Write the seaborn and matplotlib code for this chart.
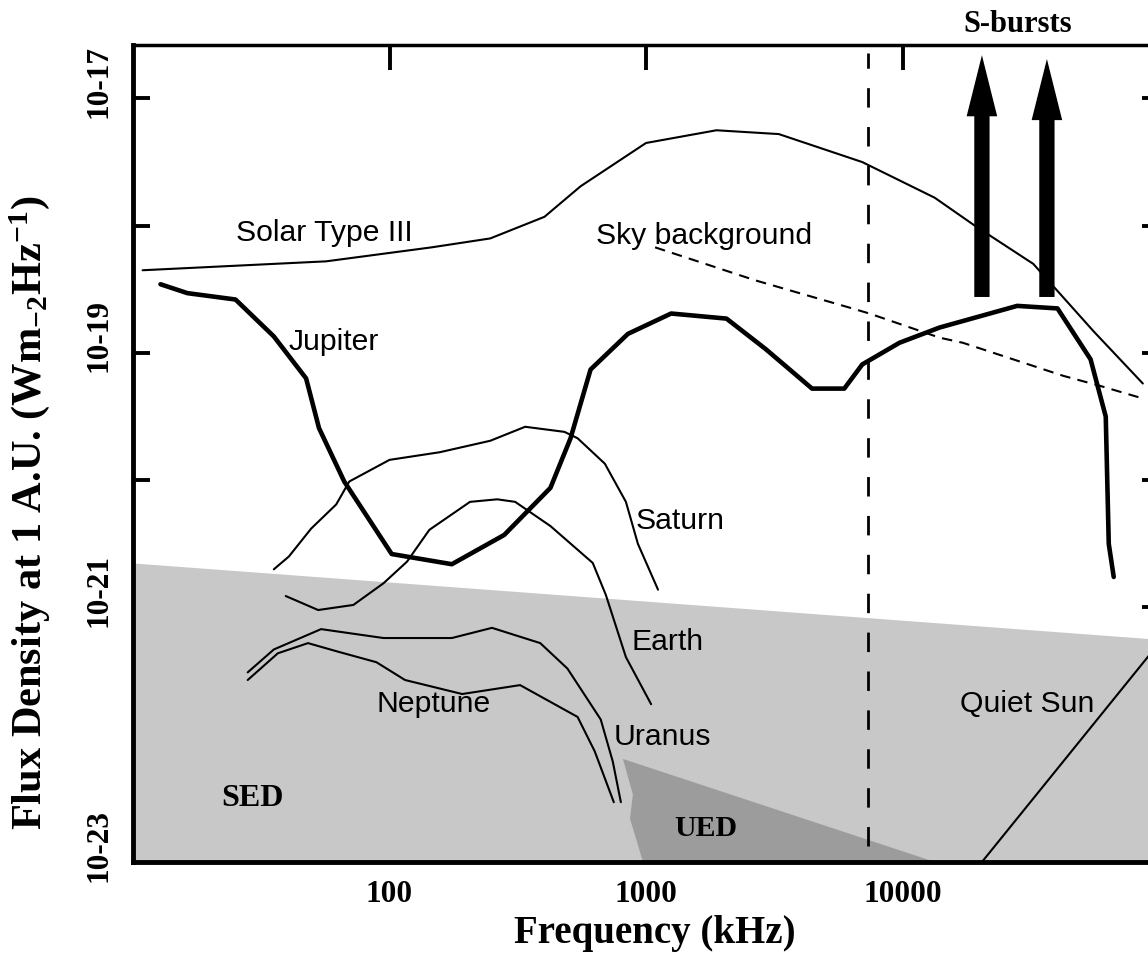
"""
Radio flux density of solar system sources vs. frequency (log-log).
"""
import matplotlib
matplotlib.use("Agg")
import matplotlib.pyplot as plt
import matplotlib.transforms as mtransforms
from matplotlib.ticker import NullLocator
import seaborn as sns
import numpy as np

# frequencies in kHz, flux given as log10(W m^-2 Hz^-1)
solar_freq = [10.9, 56.6, 146, 247, 402, 556, 1000, 1882, 3294, 6970, 13350, 19150, 32350, 55600, 86500]
solar_flux = [-18.35, -18.28, -18.17, -18.10, -17.93, -17.69, -17.35, -17.25, -17.28, -17.50,
              -17.78, -18.00, -18.30, -18.83, -19.24]

sky_freq = [1085, 2675, 6370, 7430, 13960, 17190, 42400, 59250, 87300]
sky_flux = [-18.17, -18.43, -18.65, -18.69, -18.88, -18.92, -19.18, -19.26, -19.36]

jupiter_freq = [12.8, 16.3, 25.1, 35.4, 47.3, 53.1, 66.6, 102, 175, 280, 424, 508, 608, 850,
                1253, 2060, 2930, 4440, 5930, 6970, 9730, 13960, 28000, 40200, 54100, 62000,
                63700, 66600]
jupiter_flux = [-18.46, -18.53, -18.58, -18.87, -19.20, -19.59, -20.01, -20.58, -20.66, -20.43,
                -20.06, -19.67, -19.13, -18.85, -18.69, -18.73, -18.97, -19.28, -19.28, -19.09,
                -18.92, -18.80, -18.63, -18.65, -19.05, -19.50, -20.50, -20.76]

saturn_freq = [35.4, 40.5, 49.5, 62.0, 69.7, 100, 157, 247, 338, 481, 541, 691, 835, 930, 1114]
saturn_flux = [-20.70, -20.60, -20.38, -20.19, -20.01, -19.84, -19.78, -19.69, -19.58, -19.62,
               -19.67, -19.87, -20.17, -20.50, -20.86]

earth_freq = [39.4, 52.7, 72.3, 94.7, 117, 143, 206, 263, 309, 424, 620, 697, 835, 1047]
earth_flux = [-20.91, -21.02, -20.98, -20.81, -20.64, -20.39, -20.17, -20.15, -20.17, -20.36,
              -20.65, -20.90, -21.39, -21.76]

uranus_freq = [28.0, 35.4, 54.1, 94.7, 175, 251, 387, 494, 666, 742, 798]
uranus_flux = [-21.51, -21.33, -21.17, -21.24, -21.24, -21.16, -21.28, -21.48, -21.88, -22.21, -22.53]

neptune_freq = [28.0, 36.7, 48.1, 63.7, 88.9, 115, 192, 323, 541, 631, 749]
neptune_flux = [-21.57, -21.36, -21.28, -21.35, -21.43, -21.57, -21.68, -21.61, -21.86, -22.13, -22.53]

quiet_freq = [20400, 100000]
quiet_flux = [-23.0, -21.28]

# shaded regions
sed_freq = [10, 100, 1000, 10000, 100000]
sed_top = [-20.65, -20.80, -20.95, -21.10, -21.25]
ued_freq = [813, 13400, 973, 922, 866, 889]
ued_flux = [-22.19, -23.0, -23.0, -22.84, -22.66, -22.47]

dashed_freq = 7340
sburst_freq = [20400, 36560]
sburst_base = [-18.56, -18.56]
sburst_tip = [-16.66, -16.69]

ytick_exps = [-17, -18, -19, -20, -21, -22, -23]
ytick_labels = ["10-17", "", "10-19", "", "10-21", "", "10-23"]
xtick_vals = [100, 1000, 10000]
xtick_labels = ["100", "1000", "10000"]

# text, x (kHz), y (log10 flux)
curve_labels = [
    ("Solar Type III", 55.6, -18.06),
    ("Sky background", 1683, -18.08),
    ("Jupiter", 60.9, -18.91),
    ("Saturn", 1360, -20.32),
    ("Earth", 1209, -21.27),
    ("Uranus", 1155, -22.02),
    ("Neptune", 149, -21.76),
    ("Quiet Sun", 30650, -21.76),
]
region_labels = [("SED", 29.3, -22.50, 23), ("UED", 1704, -22.74, 21.5)]

sns.set_style("white")
plt.rcParams["font.family"] = ["Liberation Serif", "DejaVu Serif"]
plt.rcParams["font.weight"] = "bold"
plt.rcParams["axes.labelweight"] = "bold"
for key in ["text.color", "axes.labelcolor", "xtick.color", "ytick.color"]:
    plt.rcParams[key] = "black"
plt.rcParams["mathtext.fontset"] = "custom"
plt.rcParams["mathtext.rm"] = "Liberation Serif:bold"
plt.rcParams["mathtext.it"] = "Liberation Serif:bold"
plt.rcParams["mathtext.bf"] = "Liberation Serif:bold"

fig = plt.figure(figsize=(11.48, 9.55), dpi=100)
ax = fig.add_axes([133 / 1148, 93 / 955, 1026 / 1148, 817 / 955])
ax.set_xscale("log")
ax.set_yscale("log")

# emission regions
ax.fill_between(sed_freq, 1e-23, np.power(10.0, sed_top), color="#c8c8c8", lw=0, zorder=1)
ax.fill(ued_freq, np.power(10.0, ued_flux), color="#9c9c9c", lw=0, zorder=2)

ax.axvline(dashed_freq, ymin=0.02, ymax=0.99, color="black", lw=2,
           linestyle=(0, (7, 7)), zorder=3)

thin = dict(color="black", lw=1.5, estimator=None, sort=False, ax=ax, zorder=4)
for fr, fl in [(solar_freq, solar_flux), (saturn_freq, saturn_flux), (earth_freq, earth_flux),
               (uranus_freq, uranus_flux), (neptune_freq, neptune_flux),
               (quiet_freq, quiet_flux)]:
    sns.lineplot(x=fr, y=np.power(10.0, fl), **thin)
sns.lineplot(x=sky_freq, y=np.power(10.0, sky_flux), color="black", lw=1.5,
             linestyle=(0, (5, 3.5)), estimator=None, sort=False, ax=ax, zorder=4)
sns.lineplot(x=jupiter_freq, y=np.power(10.0, jupiter_flux), color="black", lw=3.3,
             estimator=None, sort=False, ax=ax, zorder=5)

# S-burst arrows
for fx, b, t in zip(sburst_freq, sburst_base, sburst_tip):
    ax.annotate("", xy=(fx, 10.0 ** t), xytext=(fx, 10.0 ** b),
                arrowprops=dict(arrowstyle="simple,head_length=2.2,head_width=1.1,tail_width=0.55",
                                fc="black", ec="black", lw=0, shrinkA=0, shrinkB=0,
                                mutation_scale=20), zorder=6)
ax.text(28000, 10.0 ** -16.42, "S-bursts", ha="center", va="center", fontsize=22,
        fontweight="bold", clip_on=False)

for name, fx, fy in curve_labels:
    ax.text(fx, 10.0 ** fy, name, ha="center", va="center", fontsize=21.7,
            family="Liberation Sans", fontweight="normal", zorder=7)
for name, fx, fy, fs in region_labels:
    ax.text(fx, 10.0 ** fy, name, ha="center", va="center", fontsize=fs,
            fontweight="bold", zorder=7)

ax.set_xlim(10, 1e5)
ax.set_ylim(1e-23, 10 ** -16.58)
ax.set_xticks(xtick_vals, xtick_labels)
ax.set_yticks([10.0 ** e for e in ytick_exps], ytick_labels)
ax.xaxis.set_minor_locator(NullLocator())
ax.yaxis.set_minor_locator(NullLocator())
ax.tick_params(axis="x", direction="in", length=18, width=2.8, top=True, bottom=True,
               labelsize=22.5, pad=13)
ax.tick_params(axis="y", direction="in", length=12, width=2.8, left=True, right=True,
               labelsize=22.5, pad=14, labelrotation=90)
for lbl in ax.get_yticklabels():
    lbl.set_va("center")

for side in ["left", "bottom", "right"]:
    ax.spines[side].set_linewidth(3.5)
ax.spines["top"].set_linewidth(2.5)
for sp in ax.spines.values():
    sp.set_color("black")

ax.set_xlabel("Frequency (kHz)", fontsize=28, fontweight="bold", va="center")
ax.xaxis.set_label_coords(0.509, -0.087)
ax.set_ylabel(r"Flux Density at 1 A.U. (Wm$_{-2}$Hz$^{-1}$)", fontsize=30.5,
              fontweight="bold", va="center")
ax.yaxis.set_label_coords(-0.101, 0.427)

# y tick labels sit a little above their ticks
offset = mtransforms.ScaledTranslation(0, 0.17, fig.dpi_scale_trans)
for tick in ax.yaxis.get_major_ticks():
    tick.label1.set_transform(tick.label1.get_transform() + offset)

fig.savefig("out.png", dpi=100)
